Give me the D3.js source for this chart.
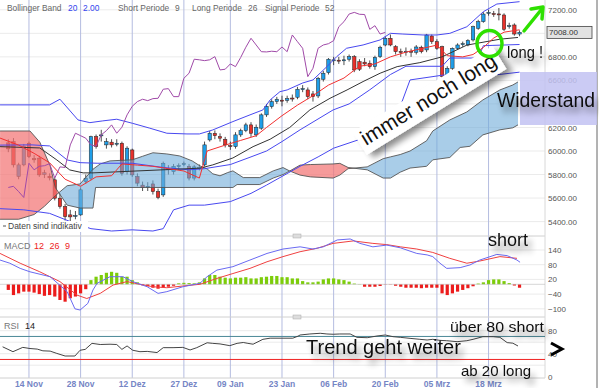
<!DOCTYPE html>
<html>
<head>
<meta charset="utf-8">
<script src="https://cdn.jsdelivr.net/npm/d3@7"></script>
<style>
  body { margin: 0; background: #fff; }
  svg { display: block; font-family: Arial, "Liberation Sans", sans-serif; }
</style>
</head>
<body>
<div id="chart"></div>
<script>
// daily candles [open, high, low, close], index 0 = first bar
const candles = [
  [6069,6100,5990,6018],[6080,6110,5860,5882],[5783,5900,5760,5882],[5882,6060,5870,6037],
  [6066,6080,5940,5952],[5935,5965,5900,5925],[5939,5960,5780,5797],[5800,5840,5770,5815],
  [5785,5810,5750,5772],[5755,5770,5580,5599],[5599,5640,5510,5528],[5528,5550,5410,5443],
  [5457,5500,5400,5440],[5445,5490,5420,5452],[5457,5690,5450,5670],[5740,5800,5720,5769],
  [5769,6130,5750,6122],[6122,6140,6020,6037],[6130,6180,6080,6137],[6052,6110,6020,6080],
  [6075,6100,6030,6052],[6060,6100,6040,6066],[6066,6080,5790,5811],[5825,6040,5800,6024],
  [6009,6020,5780,5797],[5783,5810,5700,5727],[5710,5740,5660,5690],[5690,5735,5660,5700],
  [5720,5750,5630,5655],[5655,5680,5590,5605],[5627,5910,5610,5896],[5850,5880,5800,5840],
  [5825,5890,5800,5870],[5868,5895,5840,5875],[5885,5910,5870,5892],[5870,5890,5750,5770],
  [5770,5880,5750,5865],[5855,5885,5835,5860],[5882,6080,5870,6052],[6094,6170,6080,6151],
  [6150,6175,6100,6130],[6122,6150,6080,6109],[6100,6120,6030,6052],[6045,6080,6010,6040],
  [6037,6160,6020,6137],[6137,6190,6120,6173],[6173,6240,6160,6222],[6222,6245,6120,6151],
  [6137,6225,6120,6202],[6194,6320,6180,6307],[6307,6400,6290,6380],[6377,6440,6360,6420],
  [6420,6460,6400,6440],[6432,6470,6380,6428],[6430,6470,6410,6445],[6450,6480,6420,6448],
  [6457,6545,6440,6525],[6525,6560,6500,6530],[6519,6540,6440,6462],[6485,6510,6420,6462],
  [6468,6630,6450,6618],[6610,6680,6590,6661],[6666,6790,6650,6780],[6770,6800,6730,6775],
  [6772,6800,6740,6768],[6770,6810,6730,6775],[6780,6820,6760,6802],[6802,6815,6670,6689],
  [6759,6780,6680,6695],[6755,6790,6720,6740],[6746,6770,6700,6717],[6717,6810,6690,6795],
  [6802,6895,6790,6882],[6901,6975,6890,6958],[6958,6990,6890,6901],[6887,6900,6820,6844],
  [6846,6870,6800,6842],[6845,6880,6810,6848],[6848,6870,6800,6844],[6839,6900,6820,6884],
  [6882,6895,6830,6844],[6859,6995,6840,6986],[6977,6990,6910,6929],[6929,6950,6860,6873],
  [6887,6895,6610,6632],[6627,6720,6600,6703],[6703,6880,6690,6873],[6873,6915,6860,6901],
  [6905,6930,6885,6912],[6901,6950,6890,6938],[6944,7065,6930,7056],[7043,7115,7030,7099],
  [7099,7180,7090,7164],[7170,7200,7150,7178],[7168,7190,7140,7162],[7165,7215,7110,7160],
  [7156,7170,7020,7034],[7060,7090,7040,7065],[7071,7085,6980,6994],[6994,7025,6975,7008]
];
const lastPrice = 7008;

// x-axis ticks: bar index and label
const tickIdx = [4, 14, 24, 34, 43, 53, 63, 73, 83, 93];
const tickLabels = ["14 Nov", "28 Nov", "12 Dez", "27 Dez", "09 Jan", "23 Jan", "06 Feb", "20 Feb", "05 Mrz", "18 Mrz"];
const priceGrid = [5400, 5600, 5800, 6000, 6200, 6400, 6600, 6800, 7000, 7200];
const priceLabels = [5400, 5600, 5800, 6000, 6200, 6600, 6800, 7200]; // 6400 sits under the note, 7000 under the price box
const macdTicks = [-100, -40, 20, 80, 140];
const rsiTicks = [0, 40, 80];

// indicator lines as [bar index, value]
const bbUpper = [[-1.6,6392],[8,6392],[10,6440],[13.5,6264],[15.8,6241],[18.3,6256],[21,6270],[24,6236],[27.4,6194],[30.7,6151],[34.6,6145],[37,6145],[39.6,6179],[43.5,6250],[46.8,6307],[49.3,6349],[50.7,6434],[52.6,6504],[54,6519],[57,6578],[59,6604],[61.7,6717],[63.6,6802],[65.5,6873],[68.7,6901],[72,6944],[74,7000],[76.4,6994],[80.3,6986],[83,6986],[85.5,7000],[88.8,7056],[92,7184],[94.6,7249],[99,7269]];
const bbMiddle = [[-1.6,6037],[6.1,6026],[9.4,5924],[11.9,5839],[14.5,5814],[16.4,5814],[37.1,5854],[39.6,5882],[43.5,5941],[47.4,6037],[50.7,6100],[54.5,6200],[58.4,6349],[62.3,6448],[65.6,6519],[68.7,6590],[72,6661],[75.3,6717],[79.7,6751],[84,6800],[88.8,6900],[95.2,6950],[98.7,6965]];
const bbLower = [[-1.6,5510],[3,5500],[8,5470],[12,5400],[16,5340],[20,5320],[24,5330],[28,5320],[30,5340],[32,5500],[35,5540],[38,5540],[43,5570],[47,5640],[50,5710],[56.5,5870],[60,5950],[63,6024],[69.5,6120],[72.6,6194],[75.3,6307],[77.8,6604],[84.2,6645],[90,6645],[95,6650],[99,6670]];
const tenkan = [[-1.6,6110],[2,6050],[5,5980],[8,5900],[11,5760],[14,5700],[17,5780],[20,5790],[22,5890],[25,5880],[28,5870],[31,5850],[34,5830],[37,5770],[38.5,6000],[42,6050],[45,6090],[48,6130],[50,6200],[53,6300],[56,6390],[59,6470],[62,6560],[65,6620],[68,6720],[71,6740],[74,6800],[77,6840],[80,6870],[83,6900],[85,6810],[88,6800],[90,6820],[92,6880],[94,6960],[96,7010],[99,7030]];
const kijun = [[-1.6,6050],[4.6,6052],[8,6043],[11.4,5924],[13.9,5901],[17.2,5896],[24,5896],[30,5860],[35,5840],[38,5850],[43,5885],[47,5950],[50,6000],[53,6080],[56.5,6180],[62.9,6349],[66,6400],[70,6520],[74,6650],[77,6720],[84,6720],[85.5,6790],[91,6790],[92,6895],[99,6905]];
const spanA = [[-1.6,5420],[2,5420],[5,5460],[7,5530],[9.1,5620],[11.4,5705],[13.9,5720],[16.4,5845],[17.8,5890],[19.7,5916],[24,5925],[26,5955],[28,5985],[30.7,5975],[33.2,5958],[35.6,5916],[37.1,5874],[38.5,5848],[39.6,5806],[41,5789],[42.5,5817],[43.5,5831],[45.5,5774],[48.7,5774],[51.3,5831],[53.2,5859],[54.5,5830],[56.5,5795],[58.5,5780],[62.9,5770],[64.2,5795],[65.8,5850],[69.5,5865],[72.6,5935],[74,5950],[75.9,5970],[77.8,6000],[81,6087],[82.2,6170],[85.5,6264],[88.8,6332],[91.9,6434],[95.2,6519],[97.7,6561],[98.7,6587]];
const spanB = [[-1.6,6170],[4.2,6170],[6.1,6075],[8.1,5875],[9.1,5690],[11.4,5540],[13.9,5515],[16.4,5515],[16.9,5690],[19.7,5690],[43.5,5690],[44.3,5715],[48.7,5715],[51.3,5770],[53.2,5800],[54.5,5830],[56.5,5880],[58.5,5885],[62.9,5890],[64.2,5895],[65.8,5860],[69.5,5840],[72.6,5770],[74,5770],[75.9,5820],[77.8,5855],[81,5870],[82.2,5925],[85.5,5945],[87.5,6030],[89.4,6040],[91.9,6137],[95.2,6180],[97.7,6197],[98.7,6222]];
const macdLine = [[-1.6,99],[0.3,86],[2.3,65],[4.2,51],[8.1,31],[11.4,-30],[12.9,-100],[13.9,-105],[15.4,-78],[16.4,-23],[17.2,4],[19.7,31],[22.2,31],[24.1,11],[26.9,-10],[29,-37],[30.7,-30],[33.8,-10],[37.1,4],[38.5,31],[40.4,58],[43.5,72],[46.8,99],[50.1,126],[53.2,144],[56.5,153],[59,144],[61,153],[63.7,181],[66.2,185],[68.1,167],[70.6,153],[73.3,160],[75.9,149],[79.1,126],[81.1,120],[82.2,113],[83.6,86],[84.9,65],[87.5,68],[89.4,79],[91.3,99],[94.6,122],[96.6,117],[98.5,99],[99.1,90]];
const signalLine = [[-1.6,126],[2.3,86],[6.1,51],[10,11],[13.3,-44],[15.2,-58],[17.8,-37],[20.3,-3],[23,11],[25.5,0],[28,-10],[30.7,-14],[33.8,-7],[37.1,0],[40.4,24],[43.5,44],[46.8,65],[50.1,92],[53.2,113],[56.5,133],[59.8,147],[62.9,167],[66.8,177],[70.6,167],[73.3,162],[75.9,153],[79.1,144],[82.2,130],[85.5,106],[88.8,86],[91.3,95],[95.2,113],[98.5,106]];
const macdHist = [-23,-44,-37,-30,-30,-34,-40,-47,-44,-50,-64,-71,-57,-50,-37,-20,17,31,38,47,51,47,31,31,17,8,-4,-8,-14,-18,-14,-10,-6,4,6,5,4,8,24,38,38,31,27,24,27,27,29,24,24,29,31,34,34,29,29,24,24,13,8,8,11,20,24,24,20,17,11,3,1,-10,-10,-10,-7,-1,-1,-6,-10,-14,-14,-14,-16,-14,-14,-14,-37,-44,-37,-30,-23,-16,-8,3,8,17,20,20,13,5,-5,-14];
const rsi = [[-1.1,52],[0.9,43.5],[2.8,51],[4.2,49],[5.6,48],[6.7,45],[8.1,44.5],[9.4,40.5],[11,36],[12.9,36],[13.9,46],[14.9,47.5],[16.2,58],[17.8,56],[19.7,56.5],[21,56],[22,47.5],[23,53.5],[24.1,46],[25.5,43.5],[26.9,44],[28.8,42],[30,50.5],[31.9,50.5],[33.8,51],[35.2,46.5],[36.5,50.5],[38.5,59],[39.6,58],[41,57],[42.9,54],[44.3,58],[45.5,59.5],[46.4,58],[47.4,56.5],[49.3,65],[50.7,67],[53.2,67],[55.1,67],[56.1,70.5],[56.5,72.5],[58.4,74.3],[60.4,75.5],[61.7,74.3],[62.9,73.8],[64.2,74.3],[66.2,74.3],[67.5,68.5],[69.5,67.8],[71.4,70.8],[73,72.5],[74.5,69.6],[75.9,68.5],[77.8,66.7],[79.7,65],[81.1,63.8],[82.2,65],[83.6,63.2],[84.9,62.6],[86.9,60.9],[88.8,62.6],[90,65],[91.9,69.6],[93.9,69.6],[95.2,68.5],[96.6,59.3],[97.7,58.3],[98.7,53.4]];

const W = 599, H = 388;
const plotR = 545;
const svg = d3.select("#chart").append("svg").attr("width", W).attr("height", H);
const defs = svg.append("defs");

const shadow = defs.append("filter").attr("id", "shadow")
  .attr("x", "-20%").attr("y", "-40%").attr("width", "150%").attr("height", "220%");
shadow.append("feGaussianBlur").attr("in", "SourceAlpha").attr("stdDeviation", 3).attr("result", "b");
shadow.append("feOffset").attr("in", "b").attr("dx", 4).attr("dy", 6).attr("result", "o");
shadow.append("feComponentTransfer").attr("in", "o").attr("result", "s")
  .append("feFuncA").attr("type", "linear").attr("slope", 0.45);
const sm = shadow.append("feMerge");
sm.append("feMergeNode").attr("in", "s");
sm.append("feMergeNode").attr("in", "SourceGraphic");

defs.append("clipPath").attr("id", "clipTop").append("rect")
  .attr("x", 0).attr("y", 0).attr("width", plotR).attr("height", 232);
defs.append("clipPath").attr("id", "clipMacd").append("rect")
  .attr("x", 0).attr("y", 237).attr("width", plotR).attr("height", 76);
defs.append("clipPath").attr("id", "clipRsi").append("rect")
  .attr("x", 0).attr("y", 318).attr("width", plotR).attr("height", 60);

const x = d3.scaleLinear().domain([0, candles.length - 1]).range([8.3, 8.3 + (candles.length - 1) * 5.164]);
const yP = d3.scaleLinear().domain([5400, 7200]).range([221.6, 9.8]);
const yM = d3.scaleLinear().domain([-100, 140]).range([308.8, 250]);
const yR = d3.scaleLinear().domain([0, 100]).range([376.7, 319.2]);

// grids
const grid = svg.append("g");
grid.selectAll(".hp").data(priceGrid).join("line")
  .attr("x1", 0).attr("x2", plotR).attr("y1", d => yP(d)).attr("y2", d => yP(d))
  .attr("stroke", "#ebebeb");
grid.selectAll(".hm").data(macdTicks).join("line")
  .attr("x1", 0).attr("x2", plotR).attr("y1", d => yM(d)).attr("y2", d => yM(d))
  .attr("stroke", "#ebebeb");
grid.selectAll(".hr").data([20, 40, 60, 80]).join("line")
  .attr("x1", 0).attr("x2", plotR).attr("y1", d => yR(d)).attr("y2", d => yR(d))
  .attr("stroke", "#ebebeb");
grid.selectAll(".v").data(tickIdx).join("line")
  .attr("x1", d => x(d)).attr("x2", d => x(d)).attr("y1", 0).attr("y2", 378)
  .attr("stroke", "#b4bce0");

// panel borders
[236, 317, 378].forEach(yy => svg.append("line").attr("x1", 0).attr("x2", plotR)
  .attr("y1", yy).attr("y2", yy).attr("stroke", "#d0d0d0"));
svg.append("line").attr("x1", plotR).attr("x2", plotR).attr("y1", 0).attr("y2", 378).attr("stroke", "#d8d8d8");
svg.append("line").attr("x1", 597).attr("x2", 597).attr("y1", 0).attr("y2", H).attr("stroke", "#666");

// ---- price panel
const pg = svg.append("g").attr("clip-path", "url(#clipTop)");
const line = d3.line().x(d => x(d[0])).y(d => yP(d[1]));

// candles
const cw = 3.4;
const cg = pg.append("g");
cg.selectAll("line").data(candles).join("line")
  .attr("x1", (d, i) => x(i)).attr("x2", (d, i) => x(i))
  .attr("y1", d => yP(d[1])).attr("y2", d => yP(d[2]))
  .attr("stroke", "#222").attr("stroke-width", 0.8);
cg.selectAll("rect").data(candles).join("rect")
  .attr("x", (d, i) => x(i) - cw / 2)
  .attr("y", d => yP(Math.max(d[0], d[3])))
  .attr("width", cw)
  .attr("height", d => Math.max(1, Math.abs(yP(d[0]) - yP(d[3]))))
  .attr("fill", d => d[3] >= d[0] ? "#1f9ee8" : "#e8312b")
  .attr("stroke", "#222").attr("stroke-width", 0.5);

// cloud: blue where spanA above spanB, red otherwise
const areaBelow = d3.area().x(d => x(d[0])).y0(240).y1(d => yP(d[1]));
const areaAbove = d3.area().x(d => x(d[0])).y0(-10).y1(d => yP(d[1]));
defs.append("clipPath").attr("id", "aboveB").append("path").attr("d", areaAbove(spanB));
defs.append("clipPath").attr("id", "belowB").append("path").attr("d", areaBelow(spanB));
pg.append("path").attr("d", areaBelow(spanA)).attr("clip-path", "url(#aboveB)")
  .attr("fill", "#6fabd9").attr("opacity", 0.6);
pg.append("path").attr("d", areaAbove(spanA)).attr("clip-path", "url(#belowB)")
  .attr("fill", "#f27474").attr("opacity", 0.72);
pg.append("path").attr("d", line(spanA)).attr("fill", "none").attr("stroke", "#555").attr("stroke-width", 0.9);
pg.append("path").attr("d", line(spanB)).attr("fill", "none").attr("stroke", "#555").attr("stroke-width", 0.9);

// lines
const chikou = candles.slice(26).map((c, i) => [i, c[3]]);
[[bbUpper, "#4848f0"], [bbLower, "#4848f0"], [kijun, "#4848f0"],
 [chikou, "#a04aa8"], [bbMiddle, "#333"], [tenkan, "#f23030"]].forEach(([d, c]) => {
  pg.append("path").attr("d", line(d)).attr("fill", "none").attr("stroke", c).attr("stroke-width", 1);
});

// price axis
const axP = svg.append("g").attr("transform", `translate(548,0)`)
  .call(d3.axisRight(yP).tickValues(priceLabels).tickSize(0).tickFormat(d3.format(".2f")));
axP.select(".domain").remove();
axP.selectAll("text").attr("x", 0).attr("fill", "#555").style("font-size", "8px").style("font-family", "Arial");

svg.append("rect").attr("x", 547).attr("y", yP(lastPrice) - 6).attr("width", 45).attr("height", 12)
  .attr("fill", "#e2e2e2").attr("stroke", "#444").attr("stroke-width", 0.8);
svg.append("text").attr("x", 549).attr("y", yP(lastPrice) + 3).attr("fill", "#333")
  .style("font-size", "8px").text(d3.format(".2f")(lastPrice));

// legend
const lg = svg.append("g").style("font-size", "8.4px");
[["Bollinger Band", 7, "#666"], ["20", 68, "#3344ee"], ["2.00", 83, "#3344ee"],
 ["Short Periode", 118, "#666"], ["9", 175, "#666"], ["Long Periode", 192, "#666"],
 ["26", 248, "#666"], ["Signal Periode", 265, "#666"], ["52", 325, "#666"]].forEach(([t, xx, c]) => {
  lg.append("text").attr("x", xx).attr("y", 11).attr("fill", c).text(t);
});

svg.append("rect").attr("x", 0).attr("y", 221).attr("width", 88).attr("height", 11).attr("fill", "#fff");
svg.append("line").attr("x1", 3).attr("x2", 6).attr("y1", 226).attr("y2", 226).attr("stroke", "#555");
svg.append("text").attr("x", 8).attr("y", 229).attr("fill", "#444").style("font-size", "8.5px").text("Daten sind indikativ");

// ---- MACD panel
const mg = svg.append("g").attr("clip-path", "url(#clipMacd)");
mg.selectAll("rect").data(macdHist).join("rect")
  .attr("x", (d, i) => x(i) - 1.6).attr("width", 3.2)
  .attr("y", d => Math.min(yM(d), yM(0))).attr("height", d => Math.abs(yM(d) - yM(0)))
  .attr("fill", d => d >= 0 ? "#7ccd0a" : "#ec1c1c");
mg.append("line").attr("x1", 0).attr("x2", plotR).attr("y1", yM(0)).attr("y2", yM(0)).attr("stroke", "#bbb").attr("stroke-width", 0.6);
const mline = d3.line().x(d => x(d[0])).y(d => yM(d[1]));
mg.append("path").attr("d", mline(signalLine)).attr("fill", "none").attr("stroke", "#f04040").attr("stroke-width", 1);
mg.append("path").attr("d", mline(macdLine)).attr("fill", "none").attr("stroke", "#6a6af2").attr("stroke-width", 1);

const axM = svg.append("g").attr("transform", `translate(548,0)`)
  .call(d3.axisRight(yM).tickValues(macdTicks).tickSize(0));
axM.select(".domain").remove();
axM.selectAll("text").attr("x", 0).attr("fill", "#555").style("font-size", "8px").style("font-family", "Arial");

svg.append("text").attr("x", 4).attr("y", 249).attr("fill", "#777").style("font-size", "9px").text("MACD");
svg.append("text").attr("x", 34).attr("y", 249).attr("fill", "#e22").style("font-size", "9px").attr("word-spacing", "3px").text("12 26 9");

// ---- RSI panel
const rg = svg.append("g").attr("clip-path", "url(#clipRsi)");
rg.append("line").attr("x1", 0).attr("x2", plotR).attr("y1", yR(70)).attr("y2", yR(70)).attr("stroke", "#4a8796");
rg.append("line").attr("x1", 0).attr("x2", plotR).attr("y1", yR(30)).attr("y2", yR(30)).attr("stroke", "#f02020");
rg.append("path").attr("d", d3.line().x(d => x(d[0])).y(d => yR(d[1]))(rsi))
  .attr("fill", "none").attr("stroke", "#444").attr("stroke-width", 1);

const axR = svg.append("g").attr("transform", `translate(548,0)`)
  .call(d3.axisRight(yR).tickValues(rsiTicks).tickSize(0));
axR.select(".domain").remove();
axR.selectAll("text").attr("x", 0).attr("fill", "#555").style("font-size", "8px").style("font-family", "Arial");

svg.append("text").attr("x", 4).attr("y", 329).attr("fill", "#777").style("font-size", "9px").text("RSI");
svg.append("text").attr("x", 25).attr("y", 329).attr("fill", "#222").style("font-size", "9px").text("14");

// handles
[236, 317].forEach(yy => {
  svg.append("rect").attr("x", 293).attr("y", yy - 2).attr("width", 8).attr("height", 4)
    .attr("fill", "#ddd").attr("stroke", "#aaa").attr("stroke-width", 0.5);
});

// x labels
svg.selectAll(".xl").data(tickIdx).join("text")
  .attr("x", d => x(d)).attr("y", 387).attr("text-anchor", "middle")
  .attr("fill", "#7585c5").style("font-size", "8.5px").style("font-weight", "bold")
  .text((d, i) => tickLabels[i]);

// ---- annotations
const ann = svg.append("g");
const il = ann.append("g").attr("transform", "translate(366,146) rotate(-31.6)");
il.append("rect").attr("x", -4).attr("y", -19).attr("width", 164).attr("height", 27)
  .attr("fill", "#fff").attr("filter", "url(#shadow)");
il.append("text").attr("x", 0).attr("y", 0).attr("fill", "#111").style("font-size", "21px").text("immer noch long");

ann.append("rect").attr("x", 520).attr("y", 72).attr("width", 77).attr("height", 53)
  .attr("fill", "#c2c2f2").attr("opacity", 0.85);
ann.append("text").attr("x", 497).attr("y", 107).attr("fill", "#111").attr("filter", "url(#shadow)")
  .attr("textLength", 98).attr("lengthAdjust", "spacingAndGlyphs")
  .style("font-size", "20px").text("Widerstand");

ann.append("ellipse").attr("cx", 489.5).attr("cy", 43.5).attr("rx", 12.5).attr("ry", 13)
  .attr("fill", "none").attr("stroke", "#2ee000").attr("stroke-width", 3.5);
ann.append("text").attr("x", 507).attr("y", 58).attr("fill", "#111").attr("filter", "url(#shadow)")
  .attr("textLength", 36).attr("lengthAdjust", "spacingAndGlyphs")
  .style("font-size", "17px").text("long !");
ann.append("line").attr("x1", 524).attr("y1", 31).attr("x2", 541).attr("y2", 10)
  .attr("stroke", "#2ee000").attr("stroke-width", 3.5).attr("stroke-linecap", "round");
ann.append("path").attr("d", "M531,9 L543,7 L542,19").attr("fill", "none")
  .attr("stroke", "#2ee000").attr("stroke-width", 3.5).attr("stroke-linejoin", "round").attr("stroke-linecap", "round");

ann.append("text").attr("x", 488).attr("y", 246).attr("fill", "#111").attr("filter", "url(#shadow)")
  .style("font-size", "18px").text("short");
ann.append("text").attr("x", 450).attr("y", 332).attr("fill", "#111").attr("filter", "url(#shadow)")
  .attr("textLength", 94).attr("lengthAdjust", "spacingAndGlyphs")
  .style("font-size", "15px").text("über 80 short");
ann.append("text").attr("x", 306).attr("y", 354).attr("fill", "#111").attr("filter", "url(#shadow)")
  .style("font-size", "20px").text("Trend geht weiter");
ann.append("line").attr("x1", 464).attr("y1", 349).attr("x2", 560).attr("y2", 349)
  .attr("stroke", "#000").attr("stroke-width", 4).attr("filter", "url(#shadow)");
ann.append("path").attr("d", "M551,343 L562,349 L551,355").attr("fill", "none")
  .attr("stroke", "#000").attr("stroke-width", 3);
ann.append("text").attr("x", 461).attr("y", 376).attr("fill", "#111").attr("filter", "url(#shadow)")
  .style("font-size", "15px").text("ab 20 long");
</script>
</body>
</html>
